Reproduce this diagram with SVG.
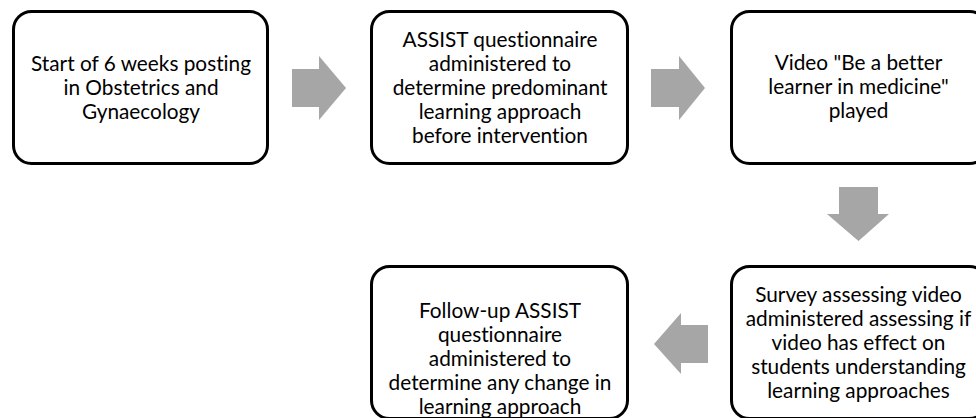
<svg xmlns="http://www.w3.org/2000/svg" width="976" height="418" viewBox="0 0 976 418">
<style>
.box{fill:#fff;stroke:#000;stroke-width:3}
.arr{fill:#a6a6a6}
text{font-family:Lato,"Liberation Sans",sans-serif;font-size:20.8px;fill:#000;text-anchor:middle;font-variant-ligatures:none}
</style>
<rect width="976" height="418" fill="#fff"/>
<g id="connectors">
<polygon class="arr" points="292,69 319,69 319,56 346,88 319,120 319,107 292,107"/>
<polygon class="arr" points="651,69 679,69 679,56 705,88 679,120 679,107 651,107"/>
<polygon class="arr" points="839,187 878,187 878,214 889,214 858.5,241 827,214 839,214"/>
<polygon class="arr" points="708,325 708,363 681,363 681,374 654,344 681,313 681,325"/>
</g>
<g id="n1">
<rect class="box" x="13.5" y="11.5" width="254" height="152" rx="18"/>
<text x="141" y="71">Start of 6 weeks posting</text>
<text x="141" y="95">in Obstetrics and</text>
<text x="141" y="119">Gynaecology</text>
</g>
<g id="n2">
<rect class="box" x="371.5" y="11.5" width="256" height="152" rx="18"/>
<text x="500" y="47">ASSIST questionnaire</text>
<text x="500" y="71">administered to</text>
<text x="500" y="95">determine predominant</text>
<text x="500" y="119">learning approach</text>
<text x="500" y="143">before intervention</text>
</g>
<g id="n3">
<rect class="box" x="731.5" y="11.5" width="256" height="152" rx="18"/>
<text x="858.5" y="70">Video "Be a better</text>
<text x="858.5" y="94">learner in medicine"</text>
<text x="858.5" y="118">played</text>
</g>
<g id="n4">
<rect class="box" x="731.5" y="266.5" width="256" height="152" rx="18"/>
<text x="858.5" y="302">Survey assessing video</text>
<text x="858.5" y="326">administered assessing if</text>
<text x="858.5" y="350">video has effect on</text>
<text x="858.5" y="374">students understanding</text>
<text x="858.5" y="398">learning approaches</text>
</g>
<g id="n5">
<rect class="box" x="371.5" y="266.5" width="256" height="152" rx="18"/>
<text x="500" y="318">Follow-up ASSIST</text>
<text x="500" y="342">questionnaire</text>
<text x="500" y="366">administered to</text>
<text x="500" y="390">determine any change in</text>
<text x="500" y="414">learning approach</text>
</g>
</svg>
